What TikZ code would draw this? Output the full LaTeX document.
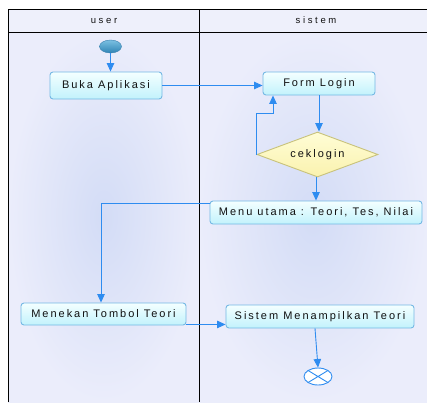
\documentclass[tikz,border=0pt]{standalone}
\usepackage{fontspec}
\newfontfamily\lblfont[LetterSpace=18]{Liberation Sans}
\newfontfamily\headfont[LetterSpace=28]{Liberation Sans}
\usetikzlibrary{shapes.geometric,arrows.meta,calc}

\definecolor{lanebg}{HTML}{EBEDFB}
\definecolor{laneblob}{HTML}{D3DCF6}
\definecolor{headbg}{HTML}{EEF0FB}
\definecolor{boxline}{HTML}{74B8E4}
\definecolor{boxtop}{HTML}{F4FFFF}
\definecolor{boxbot}{HTML}{C2F2FC}
\definecolor{decline}{HTML}{C8C27C}
\definecolor{dectop}{HTML}{FFFDD6}
\definecolor{decbot}{HTML}{FAF2AE}
\definecolor{flow}{HTML}{2E8CF0}
\definecolor{txt}{HTML}{101010}
\definecolor{dottop}{HTML}{7CC0E2}
\definecolor{dotbot}{HTML}{2F84B4}
\definecolor{dotline}{HTML}{3A80AE}

\tikzset{
  lane/.style={shading=radial, inner color=laneblob, outer color=lanebg},
  frame/.style={draw=black, line width=1pt},
  action/.style={draw=boxline, line width=0.9pt, rounded corners=3pt,
    top color=boxtop, bottom color=boxbot, inner sep=0pt,
    font=\lblfont\fontsize{11}{12}\selectfont, text=txt},
  decision/.style={diamond, aspect=2.7, draw=decline, line width=0.9pt,
    top color=dectop, bottom color=decbot, inner sep=0pt,
    font=\lblfont\fontsize{11}{12}\selectfont, text=txt},
  initial/.style={ellipse, minimum width=22pt, minimum height=13pt, inner sep=0pt,
    draw=dotline, top color=dottop, bottom color=dotbot},
  final/.style={ellipse, minimum width=28pt, minimum height=17pt, inner sep=0pt,
    draw=flow, line width=0.9pt, fill=white},
  headtext/.style={font=\headfont\fontsize{9.5}{11}\selectfont, text=txt},
  flowline/.style={draw=flow, line width=0.9pt, -{Triangle[length=8.5pt,width=7.5pt]}},
}

\begin{document}
\begin{tikzpicture}[x=1pt,y=-1pt]
  \useasboundingbox (0,0) rectangle (427,402);
  \fill[white] (0,0) rectangle (427,402);

  % swimlanes
  \fill[lane] (8,32) rectangle (199,402);
  \fill[lane] (199,32) rectangle (427,402);
  \fill[headbg] (8,9) rectangle (427,32);
  \node[headtext] (huser) at (104,20.5) {user};
  \node[headtext] (hsis) at (316,20.5) {sistem};
  \draw[frame] (427,9) -- (8,9) -- (8,402);
  \draw[frame] (8,32) -- (427,32);
  \draw[frame] (199,9) -- (199,402);

  % activities
  \node[initial] (start) at (110.5,46.5) {};
  \node[action, minimum width=112pt, minimum height=27pt] (buka) at (106,85.5) {Buka Aplikasi};
  \node[action, minimum width=112pt, minimum height=23pt] (form) at (319,83.5) {Form Login};
  \node[decision, minimum width=121pt, minimum height=45pt] (cek) at (317.5,154.5) {ceklogin};
  \node[action, minimum width=212pt, minimum height=23pt] (menu) at (316,212.5) {Menu utama : Teori, Tes, Nilai};
  \node[action, minimum width=165pt, minimum height=22pt] (tekan) at (103.5,314) {Menekan Tombol Teori};
  \node[action, minimum width=188pt, minimum height=23pt] (tampil) at (320,316.5) {Sistem Menampilkan Teori};
  \node[final] (end) at (318,376.5) {};
  \draw[flow, line width=0.9pt]
    ($(end.center)+(-9.9,-6)$) -- ($(end.center)+(9.9,6)$)
    ($(end.center)+(-9.9,6)$) -- ($(end.center)+(9.9,-6)$);

  % flows
  \coordinate (loop) at (273,113);
  \coordinate (tk) at ($(tekan.south east)+(0,-1)$);
  \draw[flowline] (start.south) -- (start.south |- buka.north);
  \draw[flowline] (buka.east) -- (buka.east -| form.west);
  \draw[flowline] (form.south) -- (form.south |- cek.north);
  \draw[flowline] (cek.west) |- (loop) -- (loop |- form.south);
  \draw[flowline] ($(cek.south)+(-1.5,0)$) -- ($(cek.south |- menu.north)+(-1.5,0)$);
  \draw[flowline] ($(menu.north west)+(0,3)$) -| ($(tekan.north)+(-2.5,0)$);
  \draw[flowline] (tk) -- (tk -| tampil.west);
  \draw[flowline] ($(tampil.south)+(-5,0)$) -- (end.north);
\end{tikzpicture}
\end{document}
